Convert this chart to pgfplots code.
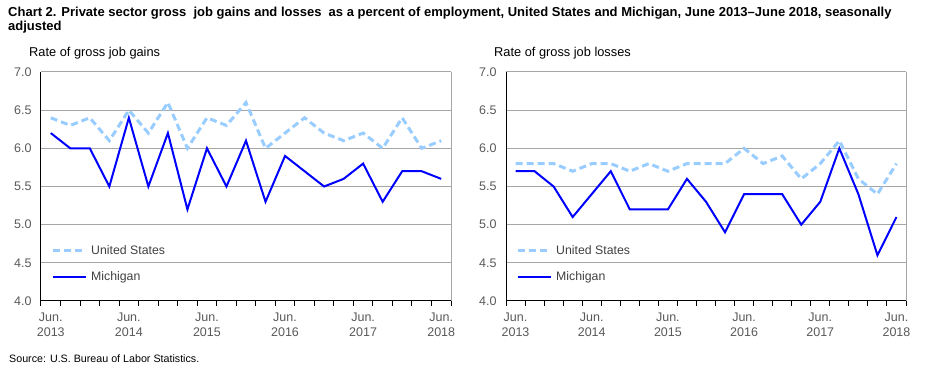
\documentclass[border=0pt]{standalone}
\usepackage{pgfplots}
\usepackage{pgfplotstable}
\pgfplotsset{compat=1.18}
\usepackage{fontspec}
\setmainfont{Liberation Sans}
\definecolor{usblue}{HTML}{99CCFF}
\definecolor{miblue}{HTML}{0000FF}
\definecolor{gridgray}{HTML}{A6A6A6}
\definecolor{labgray}{HTML}{595959}
\definecolor{txtgray}{HTML}{404040}

\pgfplotstableread{
q us mi
0 6.4 6.2
1 6.3 6.0
2 6.4 6.0
3 6.1 5.5
4 6.5 6.4
5 6.2 5.5
6 6.6 6.2
7 6.0 5.2
8 6.4 6.0
9 6.3 5.5
10 6.6 6.1
11 6.0 5.3
12 6.2 5.9
13 6.4 5.7
14 6.2 5.5
15 6.1 5.6
16 6.2 5.8
17 6.0 5.3
18 6.4 5.7
19 6.0 5.7
20 6.1 5.6
}\gains

\pgfplotstableread{
q us mi
0 5.8 5.7
1 5.8 5.7
2 5.8 5.5
3 5.7 5.1
4 5.8 5.4
5 5.8 5.7
6 5.7 5.2
7 5.8 5.2
8 5.7 5.2
9 5.8 5.6
10 5.8 5.3
11 5.8 4.9
12 6.0 5.4
13 5.8 5.4
14 5.9 5.4
15 5.6 5.0
16 5.8 5.3
17 6.1 6.0
18 5.6 5.4
19 5.4 4.6
20 5.8 5.1
}\losses

\pgfplotsset{
  panel/.style={
    scale only axis, height=229pt,
    xmin=-0.5, xmax=20.5, ymin=4, ymax=7,
    axis x line*=bottom, axis y line*=left,
    axis line style={black, line width=1pt, -},
    ytick={4,4.5,...,7},
    ymajorgrids,
    major grid style={gridgray, line width=1pt},
    yticklabel style={/pgf/number format/.cd, fixed, fixed zerofill, precision=1, /tikz/.cd, xshift=-6pt},
    /pgf/number format/assume math mode=true,
    ytick style={draw=none},
    xtick={0,4,8,12,16,20},
    xticklabels={{Jun.\\2013},{Jun.\\2014},{Jun.\\2015},{Jun.\\2016},{Jun.\\2017},{Jun.\\2018}},
    xticklabel style={align=center, yshift=-8pt, font=\fontsize{12.5}{15.5}\selectfont},
    minor xtick={-0.5,0.5,...,20.5},
    tick align=outside,
    major tick length=0pt,
    minor tick length=5pt,
    xtick style={black, line width=1pt},
    tick label style={font=\fontsize{12.5}{15.5}\selectfont, text=labgray},
    legend style={draw=none, fill=none, font=\fontsize{12.3}{14}\selectfont, text=txtgray,
      at={(axis cs:-0.5,4.19)}, anchor=south west, xshift=7pt, row sep=12pt},
    legend cell align=left,
    legend image code/.code={\draw[##1] (0pt,0pt) -- (33pt,0pt); \path (35pt,0pt);},
    clip=false,
  },
  usline/.style={usblue, line width=3pt, dash pattern=on 7pt off 4pt},
  miline/.style={miblue, line width=2pt},
}

\begin{document}
\begin{tikzpicture}
\useasboundingbox (0,0) rectangle (930pt,372pt);
\node[anchor=base west, font=\bfseries\fontsize{13}{15}\selectfont, inner sep=0] at (8pt,355pt)
  {Chart 2. Private sector gross\ \ job gains and losses\ \ as a percent of employment, United States and Michigan, June 2013--June 2018, seasonally};
\node[anchor=base west, font=\bfseries\fontsize{13}{15}\selectfont, inner sep=0] at (8pt,341pt) {adjusted};

\node[anchor=base west, font=\fontsize{12.8}{14}\selectfont, inner sep=0] at (29pt,315pt) {Rate of gross job gains};
\node[anchor=base west, font=\fontsize{12.8}{14}\selectfont, inner sep=0] at (494pt,315pt) {Rate of gross job losses};

\node[anchor=base west, font=\fontsize{10.7}{13}\selectfont, inner sep=0] at (9pt,9pt) {Source: U.S. Bureau of Labor Statistics.};

\begin{axis}[panel, width=410pt, at={(41pt,71pt)}, anchor=south west]
\addplot[usline] table[x=q, y=us] {\gains};
\addlegendentry{United States}
\addplot[miline] table[x=q, y=mi] {\gains};
\addlegendentry{Michigan}
\draw[gridgray, line width=1pt] (axis cs:20.5,4) -- (axis cs:20.5,7);
\end{axis}

\begin{axis}[panel, width=400pt, at={(506pt,71pt)}, anchor=south west]
\addplot[usline] table[x=q, y=us] {\losses};
\addlegendentry{United States}
\addplot[miline] table[x=q, y=mi] {\losses};
\addlegendentry{Michigan}
\draw[gridgray, line width=1pt] (axis cs:20.5,4) -- (axis cs:20.5,7);
\end{axis}
\end{tikzpicture}
\end{document}
